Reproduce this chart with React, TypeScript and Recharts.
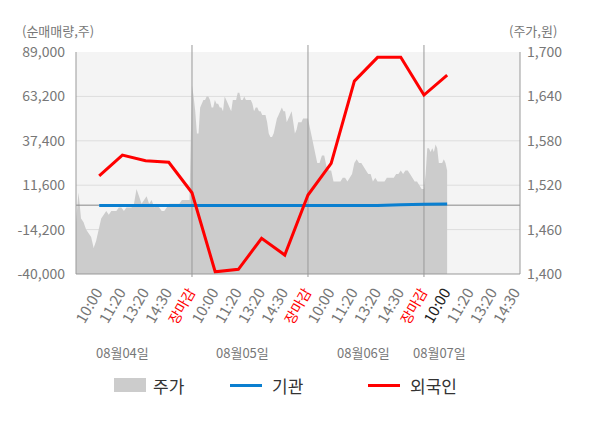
import React from "react";
import { ComposedChart, Area, Line, XAxis, YAxis, CartesianGrid, ReferenceLine } from "recharts";

const timeLabels = [
  "10:00", "11:20", "13:20", "14:30", "장마감",
  "10:00", "11:20", "13:20", "14:30", "장마감",
  "10:00", "11:20", "13:20", "14:30", "장마감",
  "10:00", "11:20", "13:20", "14:30",
];
const dateLabels = ["08월04일", "08월05일", "08월06일", "08월07일"];
const leftTicks = [-40000, -14200, 11600, 37400, 63200, 89000];
const rightTicks = [1400, 1460, 1520, 1580, 1640, 1700];

// net buying, one point per time label (slots 1..16)
const foreignNet = [17000, 29100, 25800, 24900, 7200, -38700, -37300, -19300, -29000, 5900, 24300, 72100, 85900, 85900, 64000, 75600];
const instNet = [-200, -200, -200, -200, -200, -200, -200, -200, -200, -200, -200, -200, -200, 200, 600, 700];

// intraday price, per day
const priceDay1 = [
  1470, 1510, 1475, 1470, 1460, 1455, 1450, 1435, 1445, 1460, 1475, 1480, 1485, 1480, 1485, 1485,
  1485, 1490, 1490, 1485, 1490, 1490, 1490, 1495, 1515, 1505, 1495, 1500, 1505, 1495, 1500, 1490,
  1495, 1490, 1485, 1485, 1490, 1495, 1495, 1495, 1495, 1495, 1500, 1500, 1500, 1500,
];
const priceDay2 = [
  1655, 1640, 1620, 1590, 1590, 1625, 1630, 1635, 1635, 1640,
  1640, 1635, 1625, 1625, 1635, 1630, 1630, 1625, 1625, 1620,
  1640, 1635, 1630, 1625, 1620, 1635, 1635, 1635, 1645, 1645,
  1635, 1635, 1640, 1635, 1635, 1635, 1635, 1630, 1620, 1625,
  1625, 1620, 1620, 1615, 1615, 1615, 1605, 1590, 1585, 1585,
  1590, 1600, 1610, 1615, 1620, 1625, 1620, 1620, 1605, 1610,
  1615, 1620, 1605, 1590, 1595, 1605, 1605, 1605, 1610, 1610, 1610,
];
const priceDay3 = [
  1610, 1595, 1580, 1565, 1550, 1550, 1560, 1560, 1545, 1540,
  1540, 1525, 1525, 1525, 1525, 1530, 1530, 1525, 1530, 1535,
  1550, 1555, 1550, 1550, 1545, 1540, 1535, 1535, 1525, 1530,
  1525, 1525, 1525, 1525, 1530, 1530, 1530, 1530, 1535, 1535,
  1540, 1535, 1540, 1540, 1535, 1530, 1525, 1525, 1520, 1515,
];
const priceDay4 = [1515, 1535, 1570, 1570, 1565, 1570, 1565, 1575, 1570, 1550, 1550, 1550, 1555, 1550, 1540];

const priceDays = [priceDay1, priceDay2, priceDay3, priceDay4];
const daySpans = [5, 5, 5, 1.07];

const priceData = priceDays.flatMap((day, d) =>
  day.map((price, i) => ({ x: d * 5 + (i * daySpans[d]) / day.length, price }))
);
const netData = foreignNet.map((v, i) => ({ x: i + 1, foreign: v, inst: instNet[i] }));

const currentSlot = 16;
const font = "'Noto Sans CJK KR', 'Noto Sans', sans-serif";
const fmt = (v: number) => v.toLocaleString("en-US");

const XTick = (props: any) => {
  const { x, y, payload } = props;
  const label = timeLabels[payload.value - 1];
  const close = label === "장마감";
  const fill = close ? "#ff0000" : payload.value === currentSlot ? "#222" : "#777";
  const px = x + 4;
  const py = y + 16;
  return (
    <text
      x={px}
      y={py}
      transform={`rotate(-60 ${px} ${py})`}
      textAnchor="end"
      fontSize={close ? 14 : 15}
      fill={fill}
      fontFamily={font}
    >
      {label}
    </text>
  );
};

const DayLine = (props: any) => {
  const { x1, y1, x2, y2 } = props;
  return <line x1={x1} y1={Math.min(y1, y2) - 7} x2={x2} y2={Math.max(y1, y2) + 3} stroke="#999" strokeWidth={1} />;
};

const legendItems = [
  { name: "주가", color: "#cccccc", box: true, left: 114 },
  { name: "기관", color: "#0a7fd0", box: false, left: 230 },
  { name: "외국인", color: "#ff0000", box: false, left: 368 },
];

export default function App() {
  return (
    <div style={{ position: "relative", width: 600, height: 428, fontFamily: font, background: "#fff" }}>
      <style>{"body{margin:0}"}</style>
      <div style={{ position: "absolute", left: 22, top: 24, fontSize: 13, lineHeight: "13px", color: "#777" }}>(순매매량,주)</div>
      <div style={{ position: "absolute", left: 509, top: 24, fontSize: 13, lineHeight: "13px", color: "#777" }}>(주가,원)</div>
      <ComposedChart width={600} height={428} margin={{ top: 52, right: 0, bottom: 94, left: 0 }}>
        <CartesianGrid
          yAxisId="left"
          vertical={false}
          horizontalValues={[-14200, 11600, 37400, 63200]}
          fill="#f4f4f4"
          stroke="#dddddd"
        />
        <XAxis
          type="number"
          dataKey="x"
          domain={[0, 19.14]}
          allowDataOverflow
          ticks={timeLabels.map((_, i) => i + 1)}
          interval={0}
          tick={<XTick />}
          tickLine={false}
          tickSize={0}
          axisLine={{ stroke: "#999" }}
          height={60}
        />
        <YAxis
          yAxisId="left"
          domain={[-40000, 89000]}
          ticks={leftTicks}
          interval={0}
          width={76}
          tickFormatter={fmt}
          tickLine={false}
          tickSize={0}
          tickMargin={11}
          axisLine={{ stroke: "#999" }}
          tick={{ fontSize: 14, fill: "#777", fontFamily: font }}
        />
        <YAxis
          yAxisId="right"
          orientation="right"
          domain={[1400, 1700]}
          ticks={rightTicks}
          interval={0}
          width={80}
          tickFormatter={fmt}
          tickLine={false}
          tickSize={0}
          tickMargin={7}
          axisLine={{ stroke: "#999" }}
          tick={{ fontSize: 14, fill: "#777", fontFamily: font }}
        />
        <Area
          yAxisId="right"
          data={priceData}
          dataKey="price"
          type="linear"
          fill="#cccccc"
          fillOpacity={1}
          stroke="none"
          isAnimationActive={false}
        />
        <ReferenceLine yAxisId="left" y={0} stroke="#888" />
        {[5, 10, 15].map((v) => (
          <ReferenceLine key={v} yAxisId="left" x={v} shape={<DayLine />} />
        ))}
        <Line yAxisId="left" data={netData} dataKey="inst" type="linear" stroke="#0a7fd0" strokeWidth={3} dot={false} isAnimationActive={false} />
        <Line yAxisId="left" data={netData} dataKey="foreign" type="linear" stroke="#ff0000" strokeWidth={3} dot={false} isAnimationActive={false} />
      </ComposedChart>
      {dateLabels.map((d, i) => (
        <div key={d} style={{ position: "absolute", top: 343, left: [96, 216, 337, 413][i], fontSize: 13, color: "#777" }}>
          {d}
        </div>
      ))}
      {legendItems.map((it) => (
        <div key={it.name} style={{ position: "absolute", top: 372, left: it.left, display: "flex", alignItems: "center", height: 26 }}>
          <div style={{ width: 32, height: it.box ? 14 : 3, background: it.color, marginRight: it.box ? 7 : 10 }} />
          <span style={{ fontSize: 17, color: "#333" }}>{it.name}</span>
        </div>
      ))}
    </div>
  );
}
